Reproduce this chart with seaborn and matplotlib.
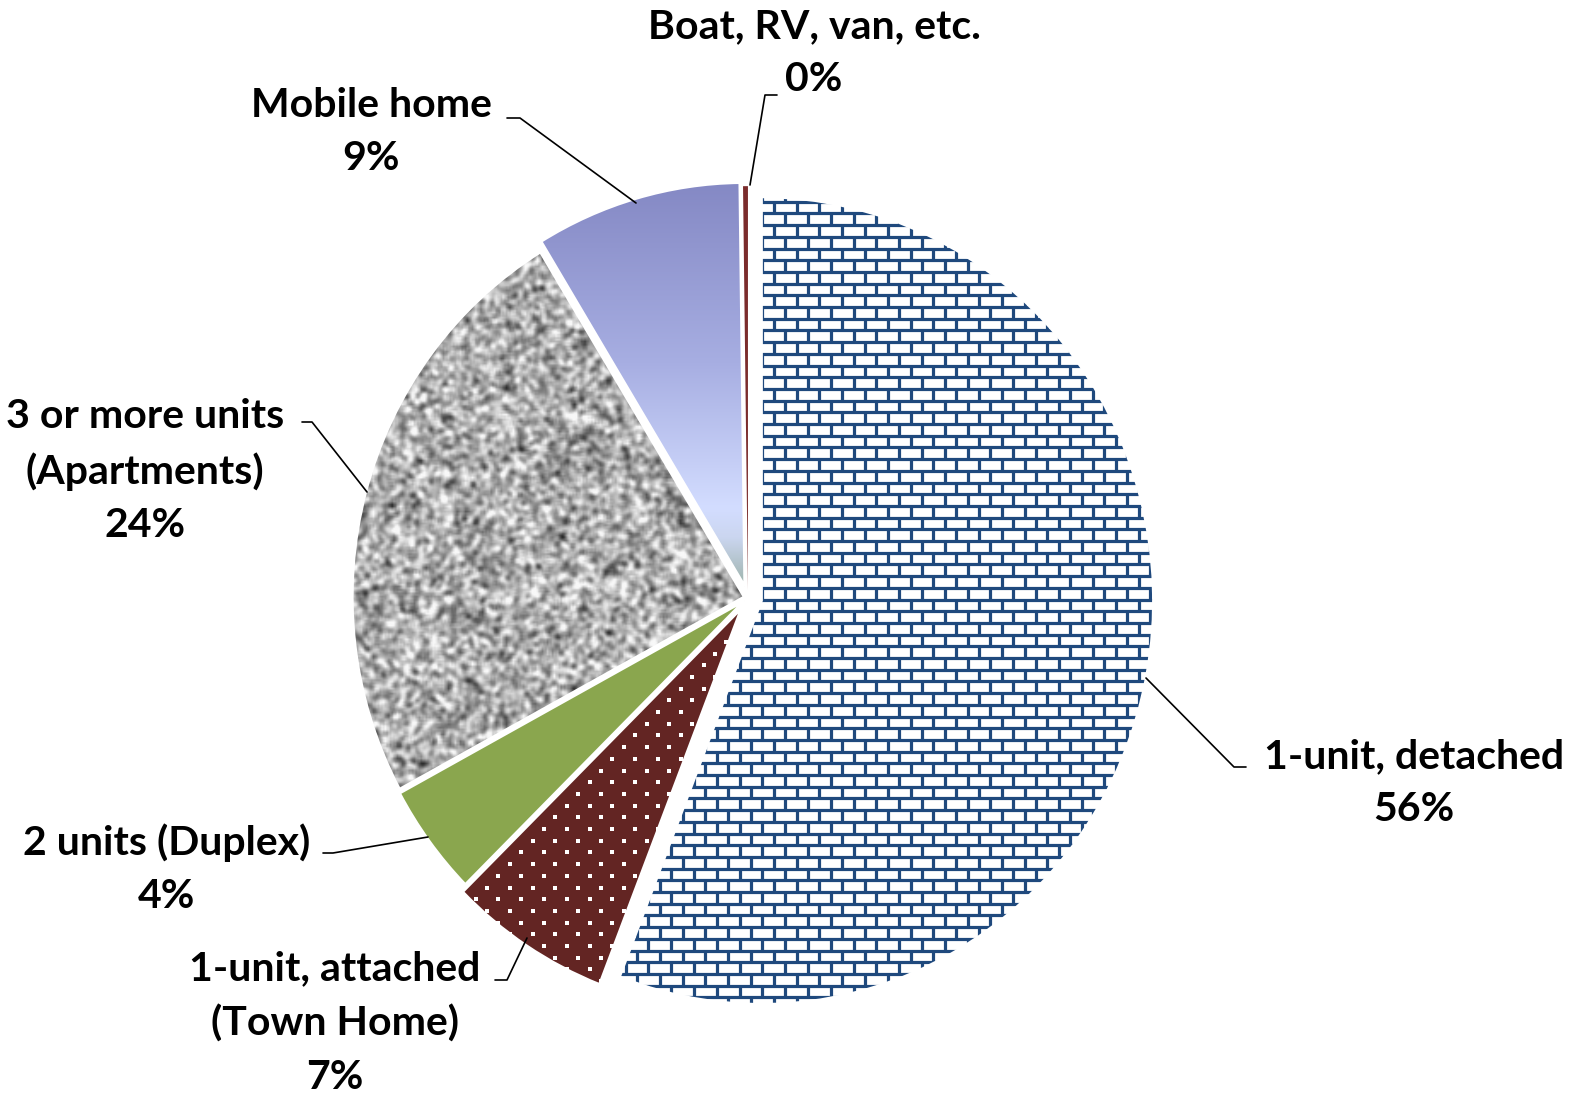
import numpy as np
import matplotlib
matplotlib.use("Agg")
import matplotlib.pyplot as plt
import seaborn as sns
from matplotlib.collections import LineCollection
from matplotlib.colors import LinearSegmentedColormap
from matplotlib.patches import Wedge

# data
categories = ["1-unit, detached", "1-unit, attached\n(Town Home)", "2 units (Duplex)",
              "3 or more units\n(Apartments)", "Mobile home", "Boat, RV, van, etc."]
shares = [55.9, 6.7, 4.5, 24.2, 8.5, 0.2]
pct_labels = ["56%", "7%", "4%", "24%", "9%", "0%"]
colors = ["white", "#632523", "#8AA64E", "#B4B4B4", "#A4ACE0", "#7B2C2C"]
explode = [0.035, 0.03, 0.012, 0.01, 0.03, 0.02]

# layout (image pixels)
W, H = 1583, 1097
SY = 1.03  # pie is a little taller than wide
CX, CY, R = 748, 598, 392
label_pos = [(1414, 783), (335, 1023), (167, 869), (145, 471), (371, 132), (814, 53)]
leaders = [
    [(1146, 678), (1234, 767), (1246, 767)],
    [(527, 938), (507, 980), (495, 980)],
    [(428, 837), (333, 853), (323, 853)],
    [(367, 492), (312, 422), (302, 422)],
    [(636, 203), (520, 118), (507, 118)],
    [(750, 185), (765, 95), (777, 95)],
]

sns.set_theme(style="white")
plt.rcParams["font.family"] = ["Lato", "DejaVu Sans"]

fig = plt.figure(figsize=(W / 100, H / 100), dpi=100)
ax = fig.add_axes([0, 0, 1, 1])

wedges, _ = ax.pie(shares, colors=colors, explode=[e * R for e in explode],
                   startangle=-90, counterclock=True, center=(CX, CY / SY), radius=R,
                   wedgeprops=dict(edgecolor="none", linewidth=0))

# brick pattern for detached homes
bw, bh = 22.8, 11.7
segs = []
y0, x0 = 190.0, 557.2
for k in range(int((1025 - y0) / bh) + 1):
    yk = y0 + k * bh
    segs.append([(550, yk / SY), (1185, yk / SY)])
    off = (k % 2) * bw / 2
    for j in range(int(630 / bw) + 2):
        xj = x0 + off + j * bw
        segs.append([(xj, yk / SY), (xj, (yk + bh) / SY)])
lc = LineCollection(segs, colors="#1F497D", linewidths=2.3, capstyle="butt")
lc.set_clip_path(wedges[0])
ax.add_collection(lc)

# white dots for attached homes
xs, ys = [], []
for k in range(int((1015 - 595) / bh) + 1):
    yk = 595 + k * bh
    off = (k % 2) * bw / 2
    for j in range(int(340 / bw) + 2):
        xs.append(430 + off + j * bw)
        ys.append(yk / SY)
dots = ax.scatter(xs, ys, marker="s", s=6.5, c="white", linewidths=0, zorder=2)
dots.set_clip_path(wedges[1])

# grey speckle texture for apartments
rng = np.random.default_rng(7)
gx0, gx1, gy0, gy1 = 330, 760, 230, 800
step = 1.7
nx, ny = int((gx1 - gx0) / step), int((gy1 - gy0) / step)
noise = rng.normal(size=(ny, nx))
kern = np.array([1, 2, 3, 2, 1], float)
kern /= kern.sum()
noise = np.apply_along_axis(lambda r: np.convolve(r, kern, mode="same"), 1, noise)
noise = np.apply_along_axis(lambda c: np.convolve(c, kern, mode="same"), 0, noise)
noise = noise / noise.std()
img = np.clip(0.68 + 0.14 * noise, 0.12, 0.97)
im = ax.imshow(img, cmap="gray", vmin=0, vmax=1, extent=(gx0, gx1, gy1 / SY, gy0 / SY),
               interpolation="bilinear", zorder=2)
im.set_clip_path(wedges[3])

# gradient for mobile homes
grad_cmap = LinearSegmentedColormap.from_list(
    "mob", [(0, "#8387C3"), (0.45, "#A7AEE2"), (0.8, "#D3DDFF"),
            (0.87, "#CBD6F0"), (1.0, "#98AFA3")])
g = np.linspace(0, 1, 256)[:, None]
im2 = ax.imshow(g, cmap=grad_cmap, extent=(520, 770, 592 / SY, 175 / SY),
                aspect="auto", interpolation="bilinear", zorder=2)
im2.set_clip_path(wedges[4])

# white separators
for w in wedges[:5]:
    ax.add_patch(Wedge(w.center, w.r, w.theta1, w.theta2, facecolor="none",
                       edgecolor="white", linewidth=2, zorder=4))

ax.set_aspect("auto")
ax.set_xlim(0, W)
ax.set_ylim(H / SY, 0)
ax.axis("off")

for cat, pct, (tx, ty) in zip(categories, pct_labels, label_pos):
    ax.text(tx, ty / SY, f"{cat}\n{pct}", ha="center", va="center", fontsize=29.5,
            fontweight="bold", linespacing=1.55, color="black", zorder=5)

for pts in leaders:
    lx = [p[0] for p in pts]
    ly = [p[1] / SY for p in pts]
    ax.plot(lx, ly, color="black", lw=1.2, zorder=5)

fig.savefig("out.png", dpi=100, facecolor="white")
